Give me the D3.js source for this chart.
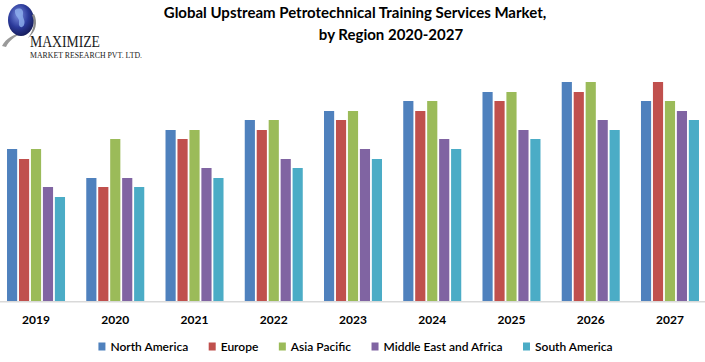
<!DOCTYPE html>
<html>
<head>
<meta charset="utf-8">
<script src="https://cdn.jsdelivr.net/npm/d3@7"></script>
<style>
  html, body { margin: 0; padding: 0; background: #fff; }
  svg { display: block; font-family: Lato, "Open Sans", sans-serif; }
</style>
</head>
<body>
<svg id="chart" width="705" height="362"></svg>
<script>
// ---- data (arbitrary units) ----
const years = ["2019", "2020", "2021", "2022", "2023", "2024", "2025", "2026", "2027"];
const regions = ["North America", "Europe", "Asia Pacific", "Middle East and Africa", "South America"];
const northAmerica = [152, 123, 171, 181, 190, 200, 209, 219, 200];
const europe       = [142, 114, 162, 171, 181, 190, 200, 209, 219];
const asiaPacific  = [152, 162, 171, 181, 190, 200, 209, 219, 200];
const middleEastAfrica = [114, 123, 133, 142, 152, 162, 171, 181, 190];
const southAmerica = [104, 114, 123, 133, 142, 152, 162, 171, 181];
const colors = ["#4F81BD", "#C0504D", "#9BBB59", "#8064A2", "#4BACC6"];

const seriesValues = [northAmerica, europe, asiaPacific, middleEastAfrica, southAmerica];
const table = years.map((y, i) => ({
  year: y,
  values: regions.map((r, j) => ({ region: r, value: seriesValues[j][i] }))
}));

const svg = d3.select("#chart");

// ---- scales ----
const x0 = d3.scaleBand().domain(years).range([-3.6, 709.6])
  .paddingInner(0.268).paddingOuter(0.134);
const x1 = d3.scaleBand().domain(regions).range([0, x0.bandwidth()]).paddingInner(0.15);
const y = d3.scaleLinear().domain([0, 230]).range([301, 71]);
const color = d3.scaleOrdinal().domain(regions).range(colors);

// ---- bars ----
const g = svg.append("g");
g.selectAll("g.year").data(table).join("g")
  .attr("class", "year")
  .attr("transform", d => `translate(${x0(d.year)},0)`)
  .selectAll("rect").data(d => d.values).join("rect")
  .attr("x", d => x1(d.region))
  .attr("width", x1.bandwidth())
  .attr("y", d => y(d.value))
  .attr("height", d => y(0) - y(d.value))
  .attr("fill", d => color(d.region));

// ---- axis ----
svg.append("line")
  .attr("x1", 0).attr("x2", 705)
  .attr("y1", y(0) + 0.75).attr("y2", y(0) + 0.75)
  .attr("stroke", "#d9d9d9").attr("stroke-width", 1.5);

const xAxis = svg.append("g")
  .attr("transform", `translate(0,${y(0)})`)
  .call(d3.axisBottom(x0).tickSize(0).tickPadding(14.5));
xAxis.select(".domain").remove();
xAxis.selectAll("text")
  .attr("font-family", "Lato, sans-serif")
  .attr("font-size", 12).attr("font-weight", "bold").attr("fill", "#000");

// ---- title ----
svg.append("text")
  .attr("x", 355).attr("y", 18).attr("text-anchor", "middle")
  .attr("font-size", 15).attr("font-weight", "bold").attr("fill", "#000")
  .text("Global Upstream Petrotechnical Training Services Market,");
svg.append("text")
  .attr("x", 391).attr("y", 40).attr("text-anchor", "middle")
  .attr("font-size", 15).attr("font-weight", "bold").attr("fill", "#000")
  .text("by Region 2020-2027");

// ---- legend ----
const legend = svg.append("g");
const items = legend.selectAll("g").data(regions).join("g");
items.append("rect")
  .attr("width", 7).attr("height", 8).attr("y", 342.5)
  .attr("fill", d => color(d));
items.append("text")
  .attr("x", 12).attr("y", 350.5)
  .attr("font-size", 12).attr("font-weight", 600).attr("fill", "#000")
  .text(d => d);
let cx = 0;
const offsets = [];
items.each(function () {
  const w = d3.select(this).select("text").node().getComputedTextLength();
  offsets.push(cx);
  cx += 12 + w + 20.5;
});
const total = cx - 20.5;
const start = 355.5 - total / 2;
items.attr("transform", (d, i) => `translate(${start + offsets[i]},0)`);

// ---- logo ----
const defs = svg.append("defs");
const grad = defs.append("radialGradient").attr("id", "globe")
  .attr("cx", "40%").attr("cy", "35%").attr("r", "70%");
grad.append("stop").attr("offset", "0%").attr("stop-color", "#7a8fe0");
grad.append("stop").attr("offset", "55%").attr("stop-color", "#2b3a9a");
grad.append("stop").attr("offset", "100%").attr("stop-color", "#141a55");
const logo = svg.append("g");
logo.append("path")
  .attr("d", "M2,46 C6,38 14,34 22,33 C14,37 9,41 6,47 Z")
  .attr("fill", "#9a9a9a");
logo.append("ellipse")
  .attr("cx", 21).attr("cy", 20).attr("rx", 13).attr("ry", 16)
  .attr("fill", "url(#globe)");
logo.append("path")
  .attr("d", "M15,10 C19,7 24,9 23,14 C22,18 26,20 24,25 C22,29 18,27 19,22 C20,18 14,16 15,10 Z")
  .attr("fill", "#8fb0ee").attr("opacity", 0.8);
logo.append("path")
  .attr("d", "M34,14 C38,22 36,32 28,38 C34,30 35,22 32,15 Z")
  .attr("fill", "#8a8a8a");
logo.append("text")
  .attr("x", 30).attr("y", 46.5)
  .attr("font-family", "Liberation Serif, serif")
  .attr("font-size", 17).attr("fill", "#1a1a1a")
  .attr("textLength", 70).attr("lengthAdjust", "spacingAndGlyphs")
  .text("MAXIMIZE");
logo.append("text")
  .attr("x", 30).attr("y", 58)
  .attr("font-family", "Liberation Serif, serif")
  .attr("font-size", 8.5).attr("fill", "#1a1a1a")
  .attr("textLength", 112).attr("lengthAdjust", "spacingAndGlyphs")
  .text("MARKET RESEARCH PVT. LTD.");
</script>
</body>
</html>
